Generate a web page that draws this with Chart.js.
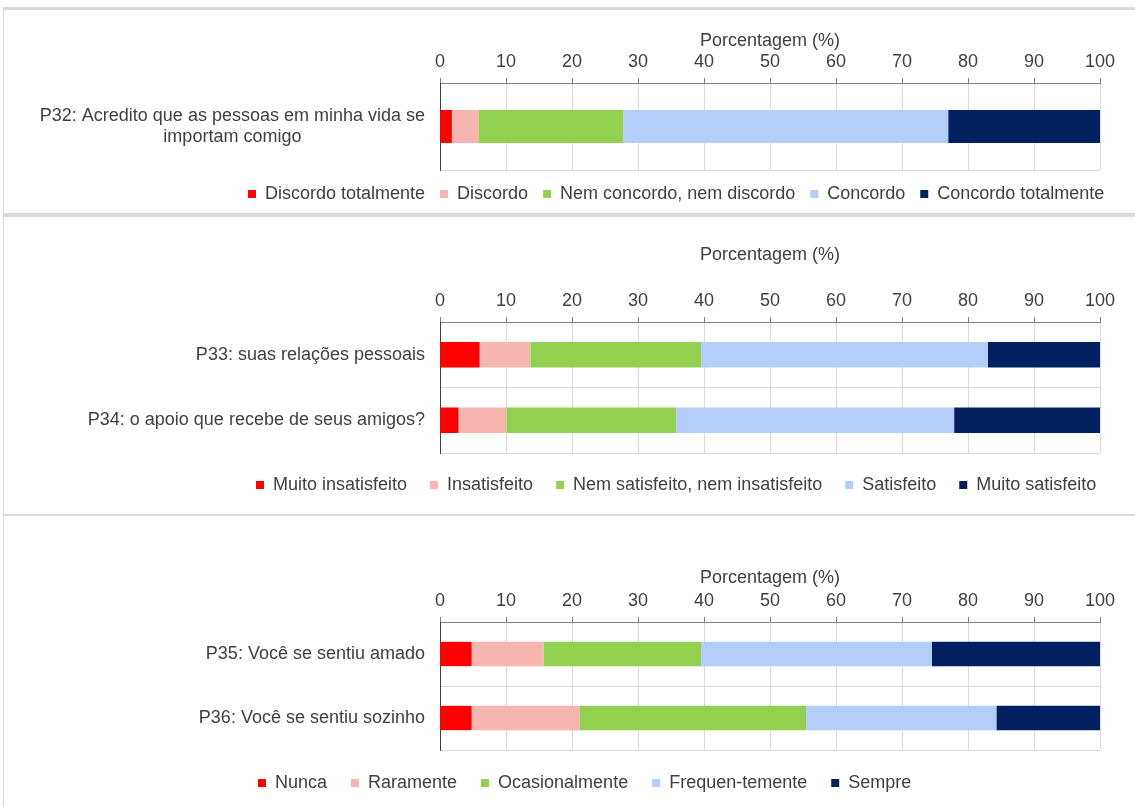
<!DOCTYPE html>
<html lang="pt">
<head>
    <meta charset="UTF-8" />
    <title>Porcentagem (%)</title>
    <script src="https://cdn.jsdelivr.net/npm/chart.js"></script>
    <style>
        body {
            margin: 0;
            background: #fff;
            width: 1135px;
            height: 807px;
            overflow: hidden;
            position: relative;
        }

        .panel {
            position: absolute;
            left: 3px;
            width: 1131px;
            border-left: 1px solid #d9d9d9;
            border-top: 3px solid #d9d9d9;
        }

        .panel canvas {
            display: block;
        }
    </style>
</head>
<body>
    <div class="panel" style="top: 7px; height: 203px;">
        <canvas id="chart1" width="1131" height="203"></canvas>
    </div>
    <div class="panel" style="top: 213px; height: 297px; border-top-width: 4px;">
        <canvas id="chart2" width="1131" height="297"></canvas>
    </div>
    <div class="panel" style="top: 514px; height: 291px; border-top-width: 2px;">
        <canvas id="chart3" width="1131" height="291"></canvas>
    </div>

    <script>
        const axisTitle = "Porcentagem (%)";
        const colors = ["#ff0000", "#f7b5b0", "#92d050", "#b4cefa", "#002060"];

        const p32Labels = [["P32: Acredito que as pessoas em minha vida se", "importam comigo"]];
        const p32Series = ["Discordo totalmente", "Discordo", "Nem concordo, nem discordo", "Concordo", "Concordo totalmente"];
        const p32Values = [[1.8], [4.1], [21.9], [49.2], [23.0]];

        const p33Labels = ["P33: suas relações pessoais", "P34: o apoio que recebe de seus amigos?"];
        const p33Series = ["Muito insatisfeito", "Insatisfeito", "Nem satisfeito, nem insatisfeito", "Satisfeito", "Muito satisfeito"];
        const p33Values = [[6.0, 2.8], [7.7, 7.3], [25.9, 25.7], [43.4, 42.1], [17.0, 22.1]];

        const p35Labels = ["P35: Você se sentiu amado", "P36: Você se sentiu sozinho"];
        const p35Series = ["Nunca", "Raramente", "Ocasionalmente", "Frequen-temente", "Sempre"];
        const p35Values = [[4.8, 4.8], [10.9, 16.4], [23.9, 34.3], [34.9, 28.8], [25.5, 15.7]];

        const textColor = "#404040";
        const font = { family: "'Liberation Sans', Arial, sans-serif", size: 18 };

        // moves the bottom legend so it starts where the original one did
        const legendShift = {
            id: "legendShift",
            afterLayout(chart, args, opts) {
                const lg = chart.legend;
                if (!lg || opts.x == null) return;
                const dx = opts.x - lg.left - lg.options.labels.padding;
                lg.left += dx;
                lg.right += dx;
            }
        };

        function makeChart(canvasId, labels, series, values, lay) {
            return new Chart(document.getElementById(canvasId), {
                type: "bar",
                data: {
                    labels: labels,
                    datasets: series.map((name, i) => ({
                        label: name,
                        data: values[i],
                        backgroundColor: colors[i],
                        borderWidth: 0,
                        barPercentage: lay.bar,
                        categoryPercentage: 1
                    }))
                },
                options: {
                    indexAxis: "y",
                    responsive: false,
                    animation: false,
                    layout: { padding: { left: 0, top: 0, right: 35, bottom: lay.bottom } },
                    scales: {
                        x: {
                            position: "top",
                            stacked: true,
                            min: 0,
                            max: 100,
                            ticks: { stepSize: 10, color: textColor, font: font, padding: 5 },
                            grid: { color: "#d9d9d9", tickColor: "#7f7f7f", tickLength: 5 },
                            border: { color: "#7f7f7f" },
                            title: {
                                display: true,
                                text: axisTitle,
                                color: textColor,
                                font: font,
                                padding: { top: lay.titleTop, bottom: 0 }
                            },
                            afterFit(scale) { scale.height = lay.axisY; }
                        },
                        y: {
                            stacked: true,
                            ticks: {
                                color: textColor,
                                font: { ...font, lineHeight: 1.17 },
                                padding: 15,
                                crossAlign: lay.cross
                            },
                            grid: { color: "#d9d9d9", drawTicks: false },
                            border: { color: "#404040" },
                            afterFit(scale) { scale.width = 436; }
                        }
                    },
                    plugins: {
                        legend: {
                            position: "bottom",
                            align: "start",
                            labels: {
                                boxWidth: 8,
                                boxHeight: 8,
                                padding: lay.gap,
                                color: textColor,
                                font: font
                            }
                        },
                        tooltip: { enabled: false },
                        legendShift: { x: lay.legendX }
                    }
                },
                plugins: [legendShift]
            });
        }

        makeChart("chart1", p32Labels, p32Series, p32Values,
            { bar: 0.38, bottom: 0, titleTop: 20, axisY: 73, cross: "center", gap: 15, legendX: 244 });
        makeChart("chart2", p33Labels, p33Series, p33Values,
            { bar: 0.39, bottom: 10, titleTop: 27, axisY: 105, cross: "near", gap: 23, legendX: 252 });
        makeChart("chart3", p35Labels, p35Series, p35Values,
            { bar: 0.38, bottom: 5, titleTop: 51, axisY: 106, cross: "near", gap: 24, legendX: 254 });
    </script>
</body>
</html>
